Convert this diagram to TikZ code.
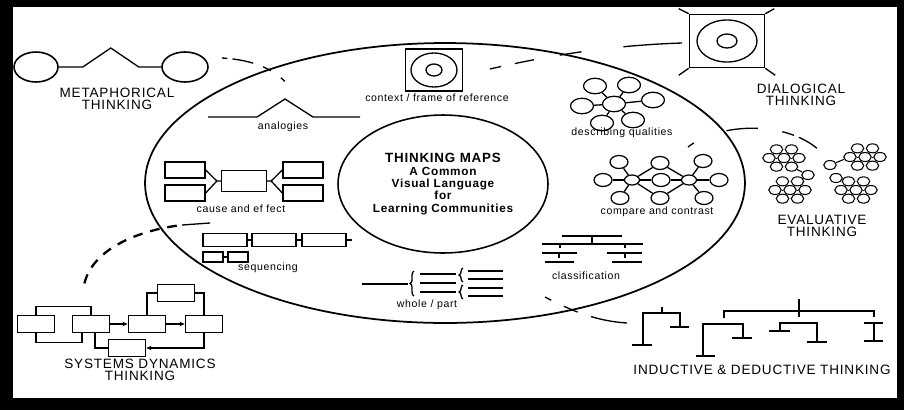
\documentclass[tikz,border=0pt]{standalone}
\usepackage{fontspec}
\setmainfont{Liberation Sans}[LetterSpace=6]
\usetikzlibrary{shapes.geometric,calc,arrows.meta,decorations.pathreplacing}

\begin{document}
\begin{tikzpicture}[x=0.02cm, y=-0.02cm,
  ink/.style={line width=0.75pt},
  capT/.style={font=\fontsize{7.7}{6.8}\selectfont, align=center, inner sep=0pt},
  lblT/.style={font=\fontsize{6}{7}\selectfont, inner sep=0pt},
  coreT/.style={font=\bfseries\fontsize{6.7}{7}\selectfont, align=center, inner sep=0pt},
  bub/.style={ellipse, draw, line width=0.7pt, minimum width=0.46cm, minimum height=0.31cm, inner sep=0pt},
  cbub/.style={bub, minimum width=0.36cm, minimum height=0.26cm},
  hub/.style={bub, minimum width=0.3cm, minimum height=0.2cm},
  ebub/.style={ellipse, draw, line width=0.6pt, minimum width=0.25cm, minimum height=0.18cm, inner sep=0pt},
  cbox/.style={draw, line width=0.75pt, minimum width=0.8cm, minimum height=0.32cm, inner sep=0pt},
  qbox/.style={draw, line width=0.75pt, minimum width=0.88cm, minimum height=0.26cm, inner sep=0pt},
  sbox/.style={draw, line width=0.85pt, minimum width=0.74cm, minimum height=0.34cm, inner sep=0pt},
  brc/.style={decorate, decoration={brace, amplitude=2.2pt}, line width=0.75pt},
  tip/.style={-{Stealth[length=3pt,width=2.5pt]}},
]
  % frame
  \useasboundingbox (0,0) rectangle (904,410);
  \fill[black] (0,0) rectangle (904,410);
  \fill[white] (13,7) rectangle (897,398);

  % the common ground
  \draw[line width=1pt] (445,183) ellipse [x radius=6cm, y radius=2.8cm];
  \node[ellipse, draw, line width=0.9pt, minimum width=4.2cm, minimum height=2.76cm, inner sep=0pt] (core) at (443,184) {};
  \node[coreT] (coreTxt) at (core.center)
    {{\fontsize{7.6}{7}\selectfont THINKING MAPS}\\A Common\\Visual Language\\for\\Learning Communities};

  % metaphorical
  \node[ellipse, draw, line width=0.9pt, minimum width=0.88cm, minimum height=0.6cm, inner sep=0pt] (metL) at (36,67) {};
  \node[ellipse, draw, line width=0.9pt, minimum width=0.92cm, minimum height=0.6cm, inner sep=0pt] (metR) at (185,67) {};
  \draw[ink] (metL.east) -- ++(24,0) -- ++(28,-19) -- ++(28,19) -- (metR.west);
  \node[capT] (metT) at (117,99) {METAPHORICAL\\THINKING};
  \coordinate (mlA) at (222,58);
  \coordinate (mlB) at (292,90);
  \draw[ink, dash pattern=on 3pt off 3pt on 12pt off 6pt on 5pt off 7pt on 3pt off 20pt]
    (mlA) .. controls (255,60) and (278,70) .. (mlB);

  % analogies
  \draw[ink] (208,117) -- (257,117) -- (285,99) -- (313,117) -- (360,117);
  \node[lblT] (anaT) at (283,127) {analogies};

  % context / frame of reference
  \node[draw, line width=0.8pt, minimum width=1.14cm, minimum height=0.84cm, inner sep=0pt] (ctx) at (434,70) {};
  \draw[ink] (ctx.center) ellipse [x radius=0.46cm, y radius=0.34cm];
  \draw[ink] (ctx.center) ellipse [x radius=0.16cm, y radius=0.12cm];
  \node[lblT] (ctxT) at (437,98) {context / frame of reference};

  % dialogical
  \node[draw, line width=0.9pt, minimum width=1.5cm, minimum height=1.06cm, inner sep=0pt] (dia) at (727,41) {};
  \draw[ink] (dia.center) ellipse [x radius=0.6cm, y radius=0.42cm];
  \draw[ink] (dia.center) ellipse [x radius=0.2cm, y radius=0.14cm];
  \draw[ink] (dia.north west) -- ++(-10,-5) (dia.north east) -- ++(9,-5)
             (dia.south west) -- ++(-10,7) (dia.south east) -- ++(10,7);
  \node[capT] (diaT) at (801,95) {DIALOGICAL\\THINKING};
  \coordinate (dlA) at (490,69);
  \coordinate (dlB) at (682,43);
  \draw[ink, dash pattern=on 6.5pt off 8pt on 11pt off 15pt on 12.5pt off 24pt on 40pt]
    (dlA) .. controls (560,53) and (620,45) .. (dlB);

  % describing qualities
  \node[bub] (dqC) at (614,104) {};
  \foreach \i/\qx/\qy in {1/595/86, 2/629/85, 3/653/100, 4/633/120, 5/602/123, 6/582/106} {
    \node[bub] (dq\i) at (\qx,\qy) {};
    \draw[ink] (dqC) -- (dq\i);
  }
  \node[lblT] (dqT) at (622,133) {describing qualities};

  % cause and effect
  \node[cbox] (ceL1) at (185,170) {};
  \node[cbox] (ceL2) at (185,193) {};
  \node[cbox, minimum width=0.9cm, minimum height=0.42cm] (ceC) at (244,181) {};
  \node[cbox] (ceR1) at (303,170) {};
  \node[cbox] (ceR2) at (303,193) {};
  \coordinate (ceJL) at ($(ceC.west)+(-4,0)$);
  \coordinate (ceJR) at ($(ceC.east)+(4,0)$);
  \draw[ink] (ceL1.east) -- (ceJL) -- (ceC.west) (ceL2.east) -- (ceJL);
  \draw[ink] (ceR1.west) -- (ceJR) -- (ceC.east) (ceR2.west) -- (ceJR);
  \node[lblT] (ceT) at (241,209) {cause and ef fect};

  % compare and contrast
  \node[hub] (ccA) at (632,180) {};
  \node[hub] (ccB) at (689,180) {};
  \foreach \i/\qx/\qy in {M1/660/163, M2/661/180, M3/660/198} {
    \node[cbub] (cc\i) at (\qx,\qy) {};
    \draw[ink] (ccA) -- (cc\i) -- (ccB);
  }
  \foreach \i/\qx/\qy in {L1/619/162, L2/603/180, L3/620/198} {
    \node[cbub] (cc\i) at (\qx,\qy) {};
    \draw[ink] (ccA) -- (cc\i);
  }
  \foreach \i/\qx/\qy in {R1/703/161, R2/719/180, R3/704/198} {
    \node[cbub] (cc\i) at (\qx,\qy) {};
    \draw[ink] (ccB) -- (cc\i);
  }
  \node[lblT] (ccT) at (657,212) {compare and contrast};

  % evaluative
  \foreach \nm/\cx/\cy in {A/784/158, B/790/190, C/865/157, D/856/190} {
    \node[ebub] (ev\nm) at (\cx,\cy) {};
    \foreach \a in {0,60,...,300} {
      \node[ebub] (ev\nm\a) at ({\cx+15*cos(\a)},{\cy+10*sin(\a)}) {};
      \draw[line width=0.5pt] (ev\nm) -- (ev\nm\a);
    }
  }
  \node[ebub] (evM1) at (808,175) {};
  \node[ebub] (evM2) at (830,165) {};
  \node[ebub] (evM3) at (836,178) {};
  \draw[line width=0.6pt] (evA60) -- (evM1) -- (evB300);
  \draw[line width=0.6pt] (evM2) -- (evC180);
  \draw[line width=0.6pt] (evM3) -- (evD240);
  \node[capT] (evT) at (822,226) {EVALUATIVE\\THINKING};
  \coordinate (elA) at (688,147);
  \coordinate (elB) at (822,153);
  \draw[ink, dash pattern=on 4pt off 20pt on 18pt off 14pt on 7pt off 3pt on 12pt]
    (elA) .. controls (720,122) and (790,120) .. (elB);

  % sequencing
  \node[qbox] (sq1) at (225,240) {};
  \node[qbox] (sq2) at (274,240) {};
  \node[qbox] (sq3) at (324,240) {};
  \node[qbox, minimum width=0.4cm, minimum height=0.2cm] (sq4) at (213,257) {};
  \node[qbox, minimum width=0.4cm, minimum height=0.2cm] (sq5) at (238,257) {};
  \draw[ink] (sq1) -- (sq2) (sq2) -- (sq3) (sq4) -- (sq5);
  \coordinate (sqEnd) at ($(sq3.east)+(5,0)$);
  \draw[ink] (sq3.east) -- (sqEnd);
  \node[lblT] (sqT) at (268,268) {sequencing};

  % link to systems dynamics
  \coordinate (slA) at (210,223);
  \coordinate (slM) at (182,225);
  \coordinate (slB) at (84,285);
  \draw[ink] (slA) -- (slM);
  \draw[line width=1.3pt, dash pattern=on 5.5pt off 4.5pt, dash phase=7pt]
    (slM) .. controls (140,230) and (92,248) .. (slB);

  % systems dynamics
  \node[sbox] (sd1) at (36,324) {};
  \node[sbox] (sd2) at (91,324) {};
  \node[sbox] (sd3) at (147,324) {};
  \node[sbox] (sd4) at (176,293) {};
  \node[sbox] (sd5) at (204,324) {};
  \node[sbox] (sd6) at (127,348) {};
  \draw[ink] (sd1.north) -- ++(0,-8) -| (sd2.north);
  \draw[ink] (sd1.south) -- ++(0,9) -| ($(sd2.south)+(-9,0)$);
  \draw[ink, tip] (sd2) -- (sd3);
  \draw[ink] (sd3.north) |- (sd4.west);
  \draw[ink] (sd4.east) -| (sd5.north);
  \draw[ink, tip] (sd3) -- (sd5);
  \draw[ink, tip] (sd5.south) |- (sd6.east);
  \draw[ink] (sd6.west) -| ($(sd2.south)+(4,0)$);
  \node[capT] (sdT) at (140,370) {SYSTEMS DYNAMICS\\THINKING};

  % whole / part
  \coordinate (wpA) at (362,284);
  \draw[ink] (wpA) -- (408,284);
  \draw[brc] (414,296) -- (414,271);
  \foreach \y in {274,283,292} \draw[ink] (420,\y) -- (456,\y);
  \draw[brc] (463,282) -- (463,268);
  \draw[brc] (463,299) -- (463,285);
  \foreach \y in {271,279,288,296} \draw[ink] (468,\y) -- (503,\y);
  \node[lblT] (wpT) at (427,305) {whole / part};

  % classification
  \draw[ink] (562,236) -- (622,236) (592,236) -- (592,244);
  \draw[ink] (542,244) -- (643,244) (560,244) -- (560,248) (625,244) -- (625,248);
  \draw[ink] (542,253) -- (577,253) (607,253) -- (642,253);
  \draw[ink] (559,253) -- (559,258) (625,253) -- (625,258);
  \draw[ink] (545,262) -- (574,262) (612,262) -- (642,262);
  \node[lblT] (clT) at (586,276) {classification};

  % link to inductive & deductive
  \coordinate (ilA) at (545,297);
  \coordinate (ilB) at (627,323);
  \draw[ink, dash pattern=on 4pt off 8pt on 8.5pt off 8pt on 30pt]
    (ilA) .. controls (570,310) and (595,321) .. (ilB);

  % inductive & deductive
  \draw[ink] (662,307) -- (662,313);
  \draw[ink] (632,345) -- (652,345) (643,345) |- (680,313) -- (680,327) (670,327) -- (689,327);
  \draw[line width=1.2pt] (799,299) -- (799,317);
  \draw[ink] (724,318) |- (874,311) -- (874,317);
  \draw[ink] (696,356) -- (715,356) (703,356) |- (743,324) -- (743,338) (732,338) -- (752,338);
  \draw[ink] (769,331) -- (790,331) (780,331) |- (817,323) -- (817,342) (807,342) -- (827,342);
  \draw[ink] (864,323) -- (883,323) (874,323) -- (874,341) (864,341) -- (883,341);
  \node[capT] (idT) at (762,370) {INDUCTIVE \& DEDUCTIVE THINKING};
\end{tikzpicture}
\end{document}
